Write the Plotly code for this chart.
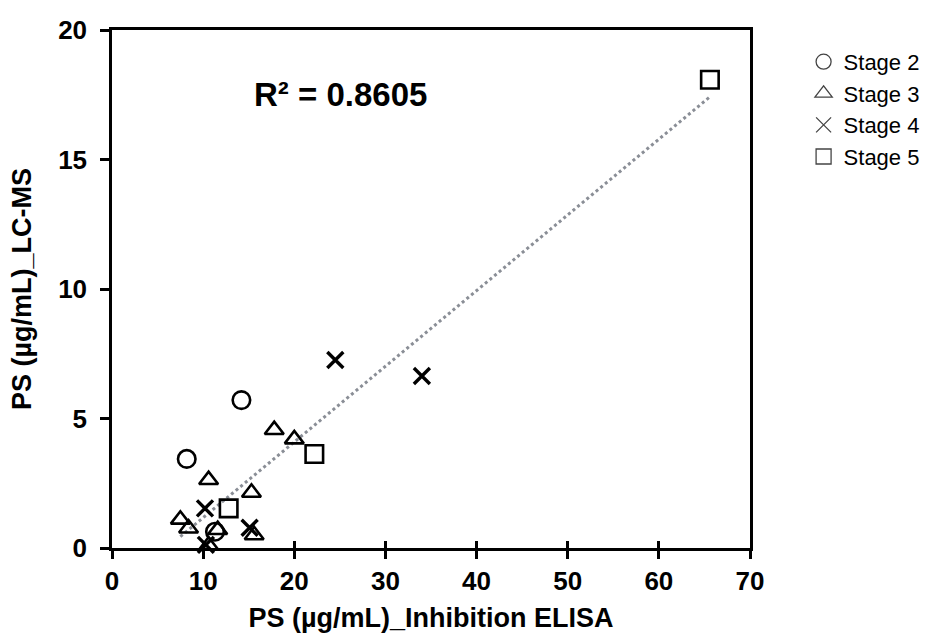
import numpy as np
import plotly.graph_objects as go

# ---- data ----
stage2_x = [14.2, 8.2, 11.3]
stage2_y = [5.71, 3.44, 0.63]

stage3_x = [17.8, 20.0, 10.6, 15.3, 7.5, 8.4, 15.6, 11.6, 10.6]
stage3_y = [4.56, 4.20, 2.63, 2.14, 1.10, 0.76, 0.50, 0.70, 0.10]

stage4_x = [24.5, 34.0, 10.2, 15.1, 10.3]
stage4_y = [7.26, 6.64, 1.53, 0.78, 0.12]

stage5_x = [65.6, 22.2, 12.8]
stage5_y = [18.08, 3.63, 1.53]

series_names = ["Stage 2", "Stage 3", "Stage 4", "Stage 5"]
r2_text = "R² = 0.8605"
x_ticks = [0, 10, 20, 30, 40, 50, 60, 70]
y_ticks = [0, 5, 10, 15, 20]

FONT = "Arial, 'Liberation Sans', sans-serif"

all_x = np.array(stage2_x + stage3_x + stage4_x + stage5_x)
all_y = np.array(stage2_y + stage3_y + stage4_y + stage5_y)
slope, intercept = np.polyfit(all_x, all_y, 1)
fit_x = [all_x.min(), all_x.max()]
fit_y = [slope * v + intercept for v in fit_x]

fig = go.Figure()

fig.add_trace(go.Scatter(x=fit_x, y=fit_y, mode="lines",
                         line=dict(color="#8a8e96", width=3, dash="dot"),
                         showlegend=False, hoverinfo="skip"))

marker_specs = [
    (stage2_x, stage2_y, "circle-open", 17.5, 2.6),
    (stage3_x, stage3_y, "triangle-up-open", 16.5, 2.6),
    (stage4_x, stage4_y, "x-thin-open", 16, 3.4),
    (stage5_x, stage5_y, "square-open", 17.5, 2.6),
]
for (xs, ys, sym, size, lw), name in zip(marker_specs, series_names):
    fig.add_trace(go.Scatter(x=xs, y=ys, mode="markers", name=name,
                             marker=dict(symbol=sym, size=size, color="black",
                                         line=dict(color="black", width=lw)),
                             cliponaxis=False, showlegend=False))

# legend-only entries with thin grey symbols
legend_syms = ["circle-open", "triangle-up-open", "x-thin-open", "square-open"]
for sym, name in zip(legend_syms, series_names):
    fig.add_trace(go.Scatter(x=[None], y=[None], mode="markers", name=name,
                             marker=dict(symbol=sym, size=15, color="#444",
                                         line=dict(color="#444", width=1.3)),
                             showlegend=True))

# invisible trace for the inner tick axis
fig.add_trace(go.Scatter(x=[None], y=[None], xaxis="x2", yaxis="y", showlegend=False))

fig.add_annotation(x=25.1, y=17.5, xref="x", yref="y", text="<b>" + r2_text + "</b>",
                   showarrow=False, font=dict(family=FONT, size=33, color="black"))

fig.update_layout(
    width=933, height=633,
    margin=dict(l=112, r=183, t=30, b=85, autoexpand=False),
    paper_bgcolor="white", plot_bgcolor="white",
    font=dict(family=FONT, color="black"),
    xaxis=dict(range=[0, 70], tickvals=x_ticks, ticktext=["<b>%d</b>" % v for v in x_ticks],
               showline=True, linecolor="black", linewidth=2.5, mirror=True,
               ticks="outside", ticklen=8, tickwidth=2.5, tickcolor="black",
               showgrid=False, zeroline=False, automargin=False,
               tickfont=dict(family=FONT, size=26, color="black"),
               title=dict(text="<b>PS (µg/mL)_Inhibition ELISA</b>",
                          font=dict(family=FONT, size=27, color="black"), standoff=20)),
    xaxis2=dict(range=[0, 70], overlaying="x", side="bottom", tickvals=x_ticks,
                showticklabels=False, ticks="inside", ticklen=7, tickwidth=2.5,
                tickcolor="black", showgrid=False, zeroline=False, showline=False),
    yaxis=dict(range=[0, 20], tickvals=y_ticks, ticktext=["<b>%d</b>" % v for v in y_ticks],
               showline=True, linecolor="black", linewidth=2.5, mirror=True,
               ticks="outside", ticklen=9, tickwidth=2.5, tickcolor="black",
               ticklabelstandoff=8,
               showgrid=False, zeroline=False, automargin=False,
               tickfont=dict(family=FONT, size=26, color="black"),
               title=dict(text="<b>PS (µg/mL)_LC-MS</b>",
                          font=dict(family=FONT, size=27, color="black"), standoff=19)),
    legend=dict(x=1.084, y=0.979, xanchor="left", yanchor="top",
                font=dict(family=FONT, size=22, color="black"),
                itemsizing="trace", tracegroupgap=0, itemwidth=30,
                bgcolor="rgba(0,0,0,0)"),
)

fig.write_html("out.html")
